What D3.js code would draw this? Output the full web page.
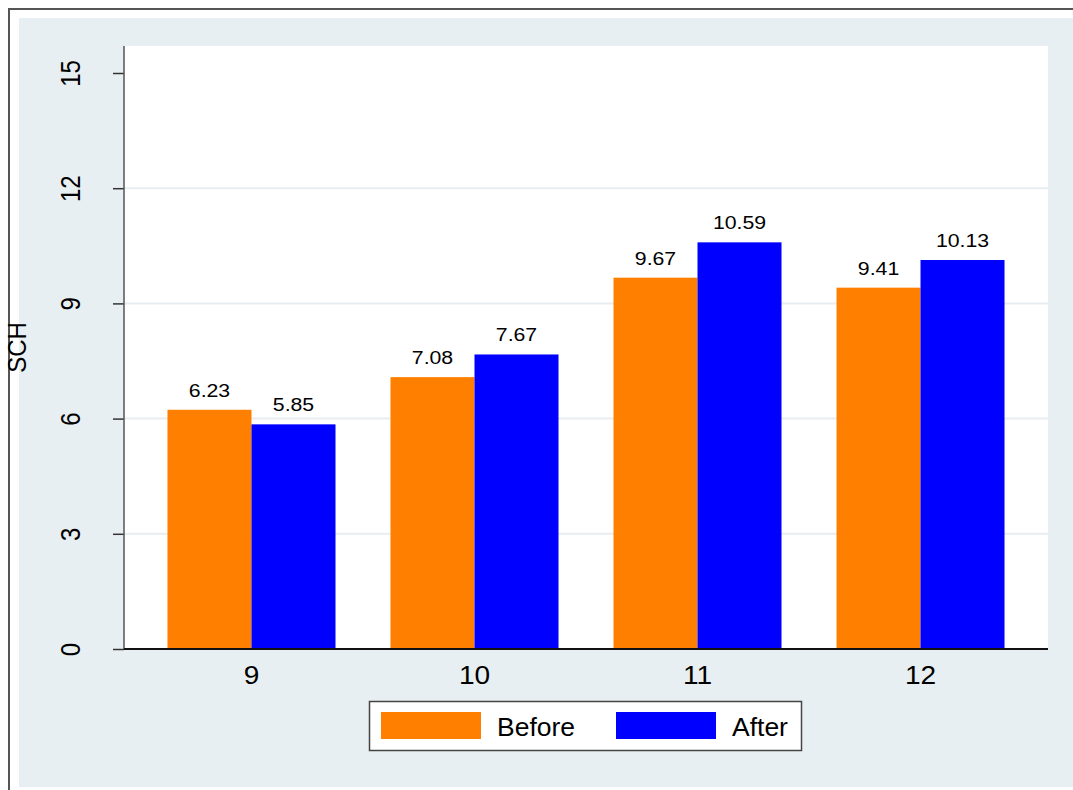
<!DOCTYPE html>
<html>
<head>
<meta charset="utf-8">
<script src="https://cdn.jsdelivr.net/npm/d3@7"></script>
<style>
  html, body { margin: 0; padding: 0; background: #ffffff; }
  svg { display: block; font-family: Arial, "Liberation Sans", sans-serif; }
</style>
</head>
<body>
<div id="chart"></div>
<script>
const categories = ["9", "10", "11", "12"];
const seriesNames = ["Before", "After"];
const beforeValues = [6.23, 7.08, 9.67, 9.41];
const afterValues = [5.85, 7.67, 10.59, 10.13];
const yTicks = [0, 3, 6, 9, 12, 15];
const yTitle = "SCH";

const W = 1073, H = 790;
const colors = { Before: "#ff8000", After: "#0000ff" };
const plot = { left: 124, right: 1048, top: 46, bottom: 649 };

const svg = d3.select("#chart").append("svg").attr("width", W).attr("height", H);

// outer frame
svg.append("rect").attr("x", 0).attr("y", 0).attr("width", W).attr("height", H).attr("fill", "#ffffff");
svg.append("rect").attr("x", 19).attr("y", 18).attr("width", W - 19).attr("height", 787 - 18).attr("fill", "#e8eff2");
svg.append("line").attr("x1", 9).attr("x2", W).attr("y1", 9).attr("y2", 9).attr("stroke", "#555").attr("stroke-width", 2);
svg.append("line").attr("x1", 9).attr("x2", 9).attr("y1", 8).attr("y2", H).attr("stroke", "#555").attr("stroke-width", 2);

// plot region
svg.append("rect").attr("x", plot.left).attr("y", plot.top)
  .attr("width", plot.right - plot.left).attr("height", plot.bottom - plot.top).attr("fill", "#ffffff");

const y = d3.scaleLinear().domain([0, 15]).range([649, 73]);
const x0 = d3.scaleBand().domain(categories).range([plot.left, plot.right])
  .paddingInner(0.2466).paddingOuter(0.195);
const x1 = d3.scaleBand().domain(seriesNames).range([0, x0.bandwidth()]);

// gridlines
svg.append("g").selectAll("line").data(yTicks.filter(t => t > 0 && t < 15)).join("line")
  .attr("x1", plot.left).attr("x2", plot.right)
  .attr("y1", d => y(d)).attr("y2", d => y(d))
  .attr("stroke", "#e6eef1").attr("stroke-width", 2);

// bars
const data = categories.map((c, i) => ({ cat: c, vals: [
  { key: "Before", v: beforeValues[i] }, { key: "After", v: afterValues[i] } ] }));

const groups = svg.append("g").selectAll("g").data(data).join("g")
  .attr("transform", d => `translate(${x0(d.cat)},0)`);
groups.selectAll("rect").data(d => d.vals).join("rect")
  .attr("x", d => x1(d.key)).attr("width", x1.bandwidth())
  .attr("y", d => y(d.v)).attr("height", d => y(0) - y(d.v))
  .attr("fill", d => colors[d.key]);
groups.selectAll("text").data(d => d.vals).join("text")
  .attr("transform", d => `translate(${x1(d.key) + x1.bandwidth() / 2},${y(d.v) - 13}) scale(1.12,1)`)
  .attr("text-anchor", "middle").attr("font-size", 19).attr("fill", "#000")
  .text(d => d.v.toFixed(2));

// y axis
const yAxis = d3.axisLeft(y).tickValues(yTicks).tickSize(11).tickFormat(d3.format("d"));
const gy = svg.append("g").attr("transform", `translate(${plot.left},0)`).call(yAxis);
gy.select(".domain").remove();
svg.append("line").attr("x1", plot.left).attr("x2", plot.left).attr("y1", plot.top).attr("y2", plot.bottom)
  .attr("stroke", "#555").attr("stroke-width", 1.5);
gy.selectAll(".tick line").attr("stroke", "#333").attr("stroke-width", 1.5);
gy.selectAll(".tick text")
  .attr("font-size", 24).attr("fill", "#000").attr("font-family", "Arial, 'Liberation Sans', sans-serif")
  .attr("dy", null).attr("x", 0).attr("y", 0)
  .attr("text-anchor", "middle")
  .attr("transform", `translate(${80 - plot.left},0) rotate(-90) scale(1,1.12)`);

// x axis
const xAxis = d3.axisBottom(x0).tickSize(0).tickPadding(0);
const gx = svg.append("g").attr("transform", `translate(0,${plot.bottom})`).call(xAxis);
gx.select(".domain").remove();
gx.selectAll(".tick text").attr("font-size", 26).attr("fill", "#000")
  .attr("font-family", "Arial, 'Liberation Sans', sans-serif")
  .attr("dy", null).attr("y", 0)
  .attr("transform", "translate(0,35) scale(1.08,1)");
svg.append("line").attr("x1", plot.left).attr("x2", plot.right).attr("y1", plot.bottom).attr("y2", plot.bottom)
  .attr("stroke", "#111").attr("stroke-width", 2);

// y title
svg.append("text").attr("transform", `translate(26,${(plot.top + plot.bottom) / 2}) rotate(-90) scale(1,1.08)`)
  .attr("text-anchor", "middle").attr("font-size", 24).attr("fill", "#000").text(yTitle);

// legend
const lg = svg.append("g");
lg.append("rect").attr("x", 369.5).attr("y", 701.5).attr("width", 432).attr("height", 49)
  .attr("fill", "#ffffff").attr("stroke", "#444").attr("stroke-width", 1.5);
const legendX = [381, 616];
seriesNames.forEach((s, i) => {
  lg.append("rect").attr("x", legendX[i]).attr("y", 712).attr("width", 100).attr("height", 27).attr("fill", colors[s]);
  lg.append("text").attr("transform", `translate(${legendX[i] + 116},736) scale(1.06,1)`)
    .attr("font-size", 25).attr("fill", "#000").text(s);
});
</script>
</body>
</html>
